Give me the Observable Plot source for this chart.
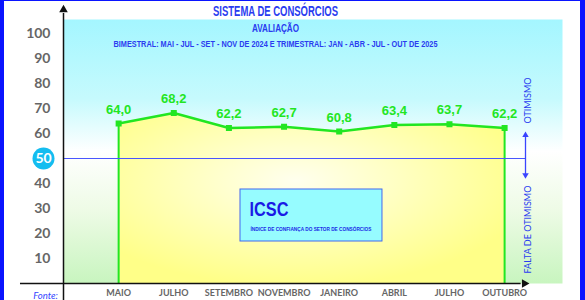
<!DOCTYPE html>
<html>
<head>
<meta charset="utf-8">
<script src="https://cdn.jsdelivr.net/npm/d3@7"></script>
<script src="https://cdn.jsdelivr.net/npm/@observablehq/plot@0.6"></script>
<style>
  html, body { margin: 0; padding: 0; background: #fff; }
  #wrap { position: relative; width: 585px; height: 300px; overflow: hidden; }
  .bd { position: absolute; background: #0a14ff; }
</style>
</head>
<body>
<div id="wrap"></div>
<script>
// ---- data ----
const months = ["MAIO", "JULHO", "SETEMBRO", "NOVEMBRO", "JANEIRO", "ABRIL", "JULHO", "OUTUBRO"];
const values = [64.0, 68.2, 62.2, 62.7, 60.8, 63.4, 63.7, 62.2];
const yTicks = [10, 20, 30, 40, 60, 70, 80, 90, 100];
const refLevel = 50;
const title = "SISTEMA DE CONSÓRCIOS";
const subtitle1 = "AVALIAÇÃO";
const subtitle2 = "BIMESTRAL: MAI - JUL - SET - NOV DE 2024 E TRIMESTRAL: JAN - ABR - JUL - OUT DE 2025";
const boxTitle = "ICSC";
const boxText = "ÍNDICE DE CONFIANÇA DO SETOR DE CONSÓRCIOS";
const upLabel = "OTIMISMO";
const downLabel = "FALTA DE OTIMISMO";
const sourceLabel = "Fonte:";

const data = months.map((m, i) => ({i, m, v: values[i]}));
const fmt = v => v.toFixed(1).replace(".", ",");

const green = "#22e622";
const blue = "#2a3cf0";
const gray = "#666666";
const F = "Lato, 'Liberation Sans', sans-serif";
const FA = "'Liberation Sans', Arial, sans-serif";

const edges = [data[0], data[data.length - 1]];

const chart = Plot.plot({
  width: 585,
  height: 300,
  marginLeft: 63,
  marginRight: 23,
  marginTop: 19,
  marginBottom: 17,
  style: {overflow: "visible", background: "transparent"},
  x: {type: "linear", domain: [-1, 8.05], axis: null},
  y: {domain: [0, 105.6], axis: null},
  marks: [
    Plot.frame({fill: "url(#bgGrad)", stroke: null}),
    Plot.areaY(data, {x: "i", y: "v", fill: "url(#yelGrad)"}),
    Plot.ruleX(edges, {x: "i", y1: 0, y2: "v", stroke: green, strokeWidth: 2}),
    Plot.ruleY([refLevel], {y: d => d, x1: -1, x2: 7.38, stroke: "#4a55ff", strokeWidth: 1.2}),
    Plot.line(data, {x: "i", y: "v", stroke: green, strokeWidth: 2.5}),
    Plot.dot(data, {x: "i", y: "v", symbol: "square", r: 3.4, fill: green, stroke: null}),
    Plot.text(data, {x: "i", y: "v", text: d => fmt(d.v), dy: -14, fill: green, fontSize: 13, fontWeight: "bold", fontFamily: FA}),
    // x labels
    Plot.text(data, {x: "i", text: "m", frameAnchor: "bottom", dy: 12, fill: gray, fontSize: 9, fontWeight: "bold", fontFamily: F}),
    // y labels
    Plot.text(yTicks, {x: -1, y: d => d, text: d => String(d), dx: -13, textAnchor: "end", fill: gray, fontSize: 14, fontWeight: "bold", fontFamily: F}),
    Plot.dot([refLevel], {x: -1, y: d => d, dx: -20, r: 11, fill: "#14bdf0", stroke: null}),
    Plot.text([refLevel], {x: -1, y: d => d, dx: -20, text: d => String(d), fill: "#fff", fontSize: 14, fontWeight: "bold", fontFamily: F}),
    // axes
    Plot.ruleX([-1], {x: d => d, y1: -7, y2: 108, stroke: "#111", strokeWidth: 1.5}),
    Plot.dot([-1], {x: d => d, y: 109.5, symbol: "triangle", r: 3.2, fill: "#111", stroke: null}),
    Plot.ruleY([0], {y: d => d, x1: -1.78, x2: 7.3, stroke: "#111", strokeWidth: 1.5}),
    Plot.dot([0], {x: 7.36, y: d => d, symbol: "triangle", rotate: 90, r: 3.2, fill: "#111", stroke: null}),
    // ICSC box
    Plot.rect([0], {x1: 2.21, x2: 4.785, y1: 16.8, y2: 37.6, fill: "#96fcff", stroke: "#4466ee", strokeWidth: 1}),
    Plot.text([boxTitle], {x: 2.373, y: 29.6, text: d => d, textAnchor: "start", fill: "#1a1ae6", fontSize: 20, fontWeight: "bold", fontFamily: FA}),
    Plot.text([boxText], {x: 2.39, y: 21.6, text: d => d, textAnchor: "start", fill: "#1a2ae6", fontSize: 5, fontWeight: "bold", fontFamily: FA}),
    // right annotations
    Plot.text([upLabel], {x: 7.415, y: 73.2, text: d => d, rotate: -90, fill: blue, fontSize: 10, fontFamily: F}),
    Plot.text([downLabel], {x: 7.415, y: 21.6, text: d => d, rotate: -90, fill: blue, fontSize: 10, fontFamily: F}),
    Plot.ruleX([7.379], {x: d => d, y1: 43.5, y2: 59.5, stroke: "#3a44ff", strokeWidth: 1.3}),
    Plot.dot([7.379], {x: d => d, y: 59.3, symbol: "triangle", r: 2.4, fill: "#3a44ff", stroke: null}),
    Plot.dot([7.379], {x: d => d, y: 43.4, symbol: "triangle", rotate: 180, r: 2.4, fill: "#3a44ff", stroke: null}),
    // titles
    Plot.text([title], {x: 2.845, y: 108.6, text: d => d, fill: blue, fontSize: 14, fontWeight: "bold", fontFamily: FA}),
    Plot.text([subtitle1], {x: 2.845, y: 102, text: d => d, fill: blue, fontSize: 11, fontWeight: "bold", fontFamily: FA}),
    Plot.text([subtitle2], {x: 2.845, y: 96, text: d => d, fill: blue, fontSize: 9.5, fontWeight: "bold", fontFamily: FA}),
    Plot.text([sourceLabel], {x: -1.326, y: -4.8, text: d => d, fill: "#3344ff", fontSize: 9.5, fontStyle: "italic", fontFamily: F})
  ]
});

// gradients
d3.select(chart).insert("defs", ":first-child").html(`
  <linearGradient id="bgGrad" x1="0" y1="0" x2="0" y2="1">
    <stop offset="0" stop-color="#a4f6ff"/>
    <stop offset="0.3" stop-color="#c6fafd"/>
    <stop offset="0.5" stop-color="#ffffff"/>
    <stop offset="0.72" stop-color="#eefbe6"/>
    <stop offset="1" stop-color="#c8f5bf"/>
  </linearGradient>
  <radialGradient id="yelGrad" cx="0.46" cy="0.4" r="0.62">
    <stop offset="0" stop-color="#ffffee"/>
    <stop offset="0.5" stop-color="#ffffbb"/>
    <stop offset="1" stop-color="#ffff88"/>
  </radialGradient>
`);

// fit narrow text widths
const widths = new Map([
  [title, 125], [subtitle1, 47], [subtitle2, 324], [boxTitle, 39],
  [boxText, 121], [upLabel, 46], [downLabel, 88]
]);
d3.select(chart).selectAll("text").each(function() {
  const t = this.textContent;
  if (widths.has(t)) {
    d3.select(this).attr("textLength", widths.get(t)).attr("lengthAdjust", "spacingAndGlyphs");
  }
});

const wrap = document.getElementById("wrap");
wrap.appendChild(chart);
[["0px", "0px", "4px", "300px"], ["580px", "0px", "5px", "300px"], ["0px", "0px", "585px", "1px"]].forEach(([l, t, w, h]) => {
  const d = document.createElement("div");
  d.className = "bd";
  Object.assign(d.style, {left: l, top: t, width: w, height: h});
  wrap.appendChild(d);
});
</script>
</body>
</html>
